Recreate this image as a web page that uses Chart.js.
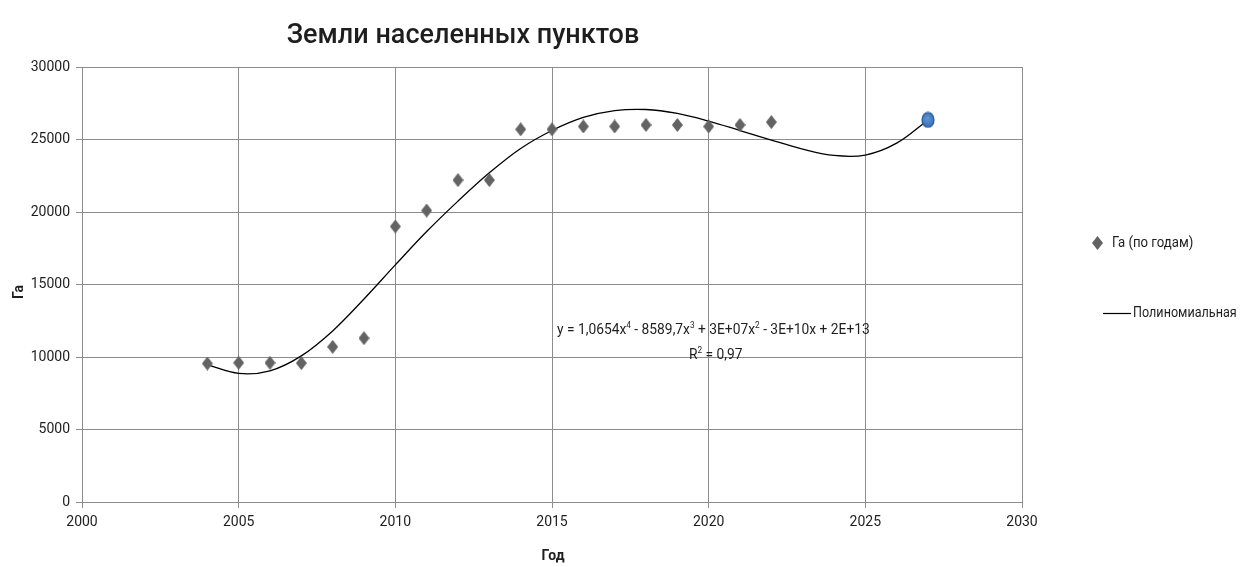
<!DOCTYPE html>
<html>
<head>
<meta charset="utf-8">
<script src="https://cdn.jsdelivr.net/npm/chart.js@4.4.1/dist/chart.umd.min.js"></script>
<style>
  html, body { margin: 0; padding: 0; background: #ffffff; }
  #wrap { width: 1252px; height: 567px; position: relative; }
</style>
</head>
<body>
<div id="wrap"><canvas id="chart" width="1252" height="567"></canvas></div>
<script>
// Observed area of settlement lands, hectares per year
const years = [2004, 2005, 2006, 2007, 2008, 2009, 2010, 2011, 2012, 2013, 2014, 2015, 2016, 2017, 2018, 2019, 2020, 2021, 2022];
const hectares = [9550, 9600, 9600, 9580, 10700, 11300, 19000, 20100, 22200, 22200, 25700, 25700, 25900, 25900, 26000, 26000, 25900, 26000, 26200];

// Forecast point
const forecastYears = [2027];
const forecastHectares = [26350];

// 4th-degree polynomial trend line, values per year
const trendYears = [2004, 2005, 2006, 2007, 2008, 2009, 2010, 2011, 2012, 2013, 2014, 2015, 2016, 2017, 2018, 2019, 2020, 2021, 2022, 2023, 2024, 2025, 2026, 2027];
const trendValues = [9460, 8870, 9050, 10080, 11800, 14000, 16350, 18650, 20750, 22700, 24380, 25620, 26520, 26990, 27070, 26800, 26270, 25620, 24960, 24340, 23900, 23930, 24750, 26350];

// Axis ticks
const xTicks = [2000, 2005, 2010, 2015, 2020, 2025, 2030];
const yTicks = [0, 5000, 10000, 15000, 20000, 25000, 30000];

const titleText = 'Земли населенных пунктов';
const xAxisTitle = 'Год';
const yAxisTitle = 'Га';
const seriesName = 'Га (по годам)';
const trendName = 'Полиномиальная';
const equationParts = [['y = 1,0654x', false], ['4', true], [' - 8589,7x', false], ['3', true], [' + 3E+07x', false], ['2', true], [' - 3E+10x + 2E+13', false]];
const r2Parts = [['R', false], ['2', true], [' = 0,97', false]];

const FONT = 'Roboto, "Liberation Sans", sans-serif';
const TEXT = '#1e1e1e';
const GRID = '#8c8c8c';

function makeDiamond(w, h, color) {
  const c = document.createElement('canvas');
  c.width = w; c.height = h;
  const g = c.getContext('2d');
  g.fillStyle = color;
  g.beginPath();
  g.moveTo(w / 2, 0);
  g.lineTo(w, h / 2);
  g.lineTo(w / 2, h);
  g.lineTo(0, h / 2);
  g.closePath();
  g.fill();
  return c;
}

function makeDot(w, h) {
  const c = document.createElement('canvas');
  c.width = w; c.height = h;
  const g = c.getContext('2d');
  const grad = g.createRadialGradient(w * 0.45, h * 0.4, 1, w / 2, h / 2, w / 2);
  grad.addColorStop(0, '#5d93d6');
  grad.addColorStop(1, '#3a6fb3');
  g.fillStyle = grad;
  g.strokeStyle = '#2d5a96';
  g.lineWidth = 1.2;
  g.beginPath();
  g.ellipse(w / 2, h / 2, w / 2 - 1, h / 2 - 1, 0, 0, Math.PI * 2);
  g.fill();
  g.stroke();
  return c;
}

const diamond = makeDiamond(11, 14, '#636363');
const dot = makeDot(14, 17);

// narrow text: horizontal squeeze to get a condensed face
function fillNarrow(ctx, txt, x, y, sx) {
  ctx.save();
  ctx.translate(x, y);
  ctx.scale(sx, 1);
  ctx.fillText(txt, 0, 0);
  ctx.restore();
  return ctx.measureText(txt).width * sx;
}

function drawRich(ctx, parts, x, y, size, sx) {
  let cx = x;
  for (const [txt, sup] of parts) {
    ctx.font = (sup ? Math.round(size * 0.62) : size) + 'px ' + FONT;
    cx += fillNarrow(ctx, txt, cx, sup ? y - size * 0.38 : y, sx);
  }
}

const annotations = {
  id: 'annotations',
  afterDraw(chart) {
    const ctx = chart.ctx;
    ctx.save();
    ctx.fillStyle = TEXT;
    // title
    ctx.font = '500 27px ' + FONT;
    ctx.textAlign = 'center';
    ctx.textBaseline = 'middle';
    ctx.fillText(titleText, 463, 36);
    // axis titles
    ctx.font = 'bold 14px ' + FONT;
    ctx.fillText(xAxisTitle, 553, 556);
    ctx.save();
    ctx.translate(19, 292);
    ctx.rotate(-Math.PI / 2);
    ctx.fillText(yAxisTitle, 0, 0);
    ctx.restore();
    // trend equation
    ctx.textAlign = 'left';
    ctx.textBaseline = 'alphabetic';
    drawRich(ctx, equationParts, 557, 334, 15, 0.92);
    drawRich(ctx, r2Parts, 689, 359, 15, 0.92);
    // legend
    ctx.drawImage(diamond, 1092, 236);
    ctx.font = '15px ' + FONT;
    ctx.textBaseline = 'middle';
    fillNarrow(ctx, seriesName, 1112, 243, 0.88);
    ctx.strokeStyle = '#000';
    ctx.lineWidth = 1.2;
    ctx.beginPath();
    ctx.moveTo(1103, 313.5);
    ctx.lineTo(1131, 313.5);
    ctx.stroke();
    fillNarrow(ctx, trendName, 1133, 313, 0.84);
    ctx.restore();
  }
};

new Chart(document.getElementById('chart'), {
  type: 'scatter',
  data: {
    datasets: [
      {
        label: seriesName,
        data: years.map((x, i) => ({ x, y: hectares[i] })),
        pointStyle: diamond,
        pointRadius: 6,
        order: 1
      },
      {
        label: 'forecast',
        data: forecastYears.map((x, i) => ({ x, y: forecastHectares[i] })),
        pointStyle: dot,
        pointRadius: 7,
        order: 0
      },
      {
        label: trendName,
        data: trendYears.map((x, i) => ({ x, y: trendValues[i] })),
        showLine: true,
        pointRadius: 0,
        borderColor: '#000000',
        borderWidth: 1.3,
        tension: 0.35,
        order: 2
      }
    ]
  },
  options: {
    responsive: false,
    animation: false,
    events: [],
    layout: { padding: { left: 0, top: 67, right: 230, bottom: 0 } },
    plugins: {
      legend: { display: false },
      title: { display: false },
      tooltip: { enabled: false }
    },
    scales: {
      x: {
        type: 'linear',
        min: xTicks[0],
        max: xTicks[xTicks.length - 1],
        afterBuildTicks: (s) => { s.ticks = xTicks.map(v => ({ value: v })); },
        afterFit: (s) => { s.height = 65; },
        grid: { color: GRID, lineWidth: 1, tickLength: 6, drawTicks: true },
        border: { color: GRID, width: 1 },
        ticks: { color: TEXT, font: { family: FONT, size: 14 }, padding: 6, maxRotation: 0, callback: v => String(v) }
      },
      y: {
        type: 'linear',
        min: yTicks[0],
        max: yTicks[yTicks.length - 1],
        afterBuildTicks: (s) => { s.ticks = yTicks.map(v => ({ value: v })); },
        afterFit: (s) => { s.width = 82; },
        grid: { color: GRID, lineWidth: 1, tickLength: 6, drawTicks: true },
        border: { color: GRID, width: 1 },
        ticks: { color: TEXT, font: { family: FONT, size: 14 }, padding: 6, callback: v => String(v) }
      }
    }
  },
  plugins: [annotations]
});
</script>
</body>
</html>
